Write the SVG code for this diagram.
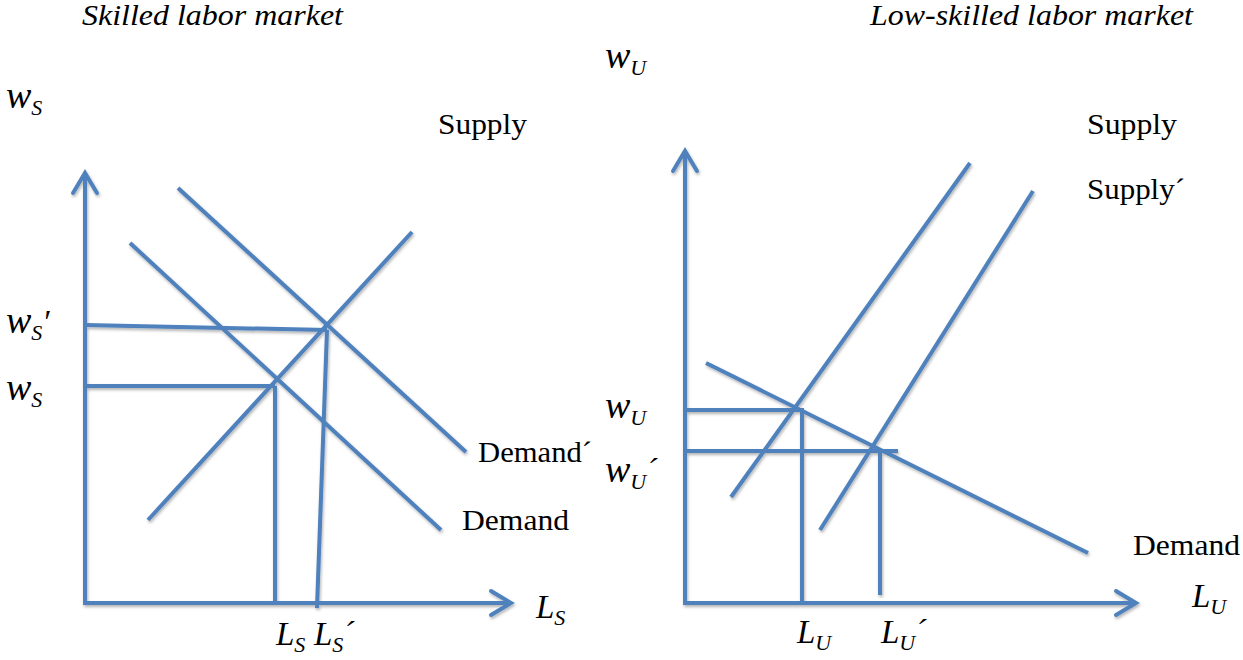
<svg xmlns="http://www.w3.org/2000/svg" width="1243" height="660" viewBox="0 0 1243 660">
<defs>
<filter id="sh" x="-10%" y="-10%" width="120%" height="120%">
<feDropShadow dx="1" dy="2" stdDeviation="1.5" flood-color="#000" flood-opacity="0.3"/>
</filter>
<style>
.ln{stroke:#4f81bd;stroke-width:4;fill:none;stroke-linecap:butt}
.ah{stroke:#4f81bd;stroke-width:4;fill:none;stroke-linecap:round;stroke-linejoin:miter}
.t{font-family:"Liberation Serif","Times New Roman",serif;font-size:30px;fill:#000}
.it{font-style:italic}
.m{font-family:"Liberation Serif","Times New Roman",serif;font-style:italic;font-size:33px;fill:#000}
.w{font-size:38px}
.sub{font-size:22px}
</style>
</defs>
<rect width="1243" height="660" fill="#fff"/>

<g id="titles">
<text class="t it" x="82" y="25" textLength="261" lengthAdjust="spacingAndGlyphs">Skilled labor market</text>
<text class="t it" x="870" y="25" textLength="323" lengthAdjust="spacingAndGlyphs">Low-skilled labor market</text>
</g>

<g id="connectors" filter="url(#sh)">
<!-- left axes -->
<line class="ln" x1="85" y1="605" x2="85" y2="174"/>
<polyline class="ah" points="73,193 85,173 97,193"/>
<line class="ln" x1="83" y1="603" x2="510" y2="603"/>
<polyline class="ah" points="491,591 511,603 491,615"/>
<!-- left curves -->
<line class="ln" x1="148" y1="520" x2="412" y2="232"/>
<line class="ln" x1="130" y1="243" x2="441" y2="530"/>
<line class="ln" x1="178" y1="188" x2="466" y2="452"/>
<line class="ln" x1="85" y1="325" x2="327" y2="330"/>
<line class="ln" x1="85" y1="386" x2="275" y2="386"/>
<line class="ln" x1="275" y1="386" x2="275" y2="603"/>
<line class="ln" x1="327" y1="330" x2="317" y2="608"/>
<!-- right axes -->
<line class="ln" x1="685" y1="605" x2="685" y2="152"/>
<polyline class="ah" points="673,171 685,151 697,171"/>
<line class="ln" x1="683" y1="603" x2="1135" y2="603"/>
<polyline class="ah" points="1116,591 1136,603 1116,615"/>
<!-- right curves -->
<line class="ln" x1="731" y1="497" x2="970" y2="163"/>
<line class="ln" x1="820" y1="530" x2="1033" y2="191"/>
<line class="ln" x1="706" y1="363" x2="1088" y2="553"/>
<line class="ln" x1="685" y1="410" x2="802" y2="410"/>
<line class="ln" x1="685" y1="451" x2="898" y2="451"/>
<line class="ln" x1="802" y1="408" x2="802" y2="603"/>
<line class="ln" x1="880" y1="451" x2="880" y2="595"/>
</g>

<g id="left-labels">
<text class="m" x="6" y="108"><tspan class="w">w</tspan><tspan class="sub" dy="7">S</tspan></text>
<text class="m" x="6" y="333"><tspan class="w">w</tspan><tspan class="sub" dy="7">S</tspan><tspan dy="-7">′</tspan></text>
<text class="m" x="6" y="400"><tspan class="w">w</tspan><tspan class="sub" dy="7">S</tspan></text>
<text class="t" x="438" y="134" textLength="89" lengthAdjust="spacingAndGlyphs">Supply</text>
<text class="t" x="478" y="462" textLength="114" lengthAdjust="spacingAndGlyphs">Demand´</text>
<text class="t" x="462" y="530" textLength="107" lengthAdjust="spacingAndGlyphs">Demand</text>
<text class="m" x="536" y="618">L<tspan class="sub" dy="7">S</tspan></text>
<text class="m" x="276" y="645">L<tspan class="sub" dy="7">S</tspan></text>
<text class="m" x="314" y="645">L<tspan class="sub" dy="7">S</tspan><tspan dy="-7">´</tspan></text>
</g>

<g id="right-labels">
<text class="m" x="605" y="68"><tspan class="w">w</tspan><tspan class="sub" dy="7">U</tspan></text>
<text class="m" x="605" y="418"><tspan class="w">w</tspan><tspan class="sub" dy="7">U</tspan></text>
<text class="m" x="605" y="482"><tspan class="w">w</tspan><tspan class="sub" dy="7">U</tspan><tspan dy="-7">´</tspan></text>
<text class="t" x="1087" y="134" textLength="90" lengthAdjust="spacingAndGlyphs">Supply</text>
<text class="t" x="1087" y="199" textLength="98" lengthAdjust="spacingAndGlyphs">Supply´</text>
<text class="t" x="1133" y="555" textLength="107" lengthAdjust="spacingAndGlyphs">Demand</text>
<text class="m" x="1192" y="607">L<tspan class="sub" dy="7">U</tspan></text>
<text class="m" x="797" y="643">L<tspan class="sub" dy="7">U</tspan></text>
<text class="m" x="881" y="643">L<tspan class="sub" dy="7">U</tspan><tspan dy="-7">´</tspan></text>
</g>
</svg>
